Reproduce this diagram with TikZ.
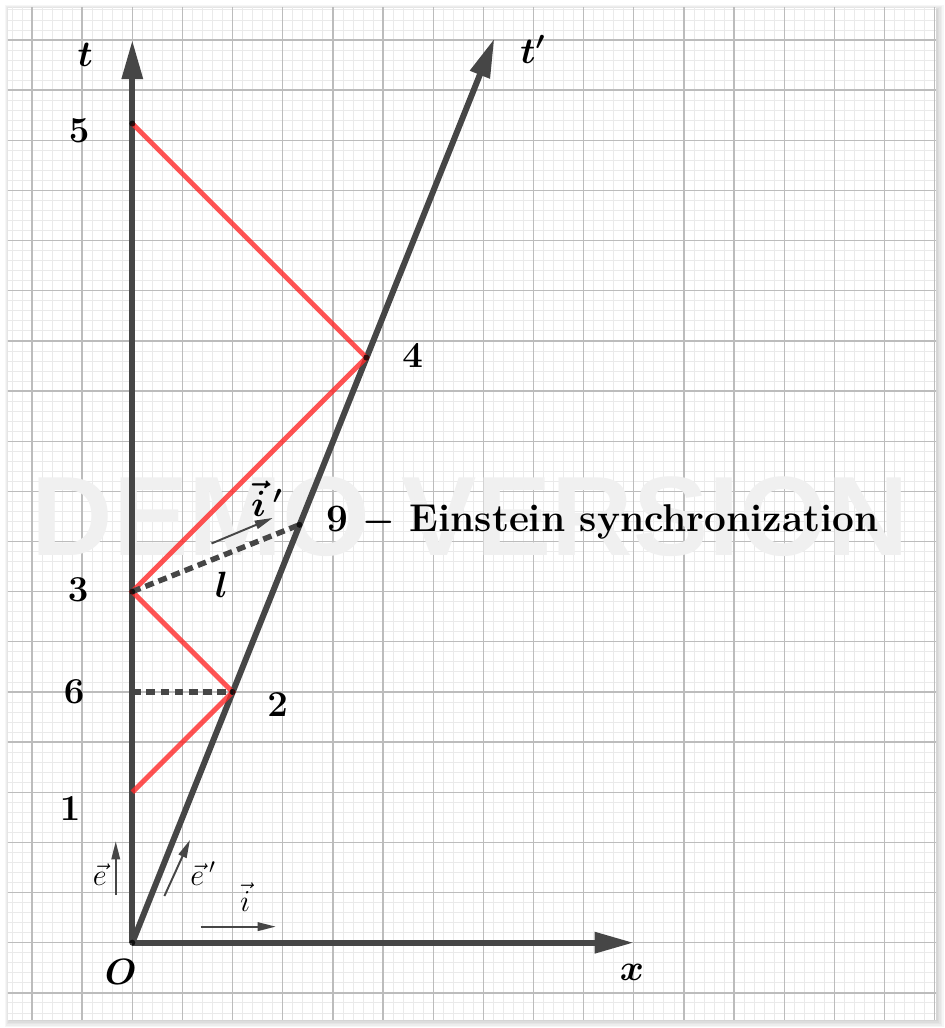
\documentclass[tikz,border=0pt]{standalone}
\usepackage{fontspec}
\usepackage{amsmath}
\usetikzlibrary{arrows.meta}
\newfontfamily\wmfont{Liberation Sans}
\definecolor{axisgray}{RGB}{70,70,70}
\definecolor{lightred}{RGB}{255,40,40}
\definecolor{minorgrid}{RGB}{234,234,234}
\definecolor{majorgrid}{RGB}{188,188,188}
\tikzset{
  axis/.style={draw=axisgray, line width=3.4pt, -{Triangle[length=0.78cm,width=0.4cm]}},
  smallvec/.style={draw=axisgray, line width=1.1pt, -{Triangle[length=0.36cm,width=0.17cm]}},
  ray/.style={draw=lightred, line width=2.8pt, opacity=0.8, line join=miter},
  dashline/.style={draw=axisgray, line width=3.1pt, dash pattern=on 5pt off 3pt},
  lab/.style={font=\fontsize{22}{26}\selectfont\bfseries\boldmath, inner sep=0pt},
  slab/.style={font=\fontsize{17}{20}\selectfont, inner sep=0pt},
  dot/.style={fill=black, opacity=0.75},
}
\begin{document}
\begin{tikzpicture}[x=1cm,y=1cm]
\useasboundingbox (-2.638,-1.701) rectangle (16.186,18.797);
% shadow
\foreach \k in {1,...,5}{
  \fill[black, opacity=0.035] (-2.48-0.02*\k+0.04,-1.54-0.03*\k) rectangle (16.03+0.03*\k,18.64+0.02*\k-0.04);
}
\fill[white] (-2.48,-1.54) rectangle (16.03,18.64);
\begin{scope}
\clip (-2.48,-1.54) rectangle (16.03,18.64);
\draw[minorgrid, line width=0.45pt] (-2.6,-1.6) grid[step=0.2] (16.2,18.8);
\draw[majorgrid, line width=0.75pt] (-3,-2) grid[step=1] (17,19);
\end{scope}
% watermark
\node[font=\wmfont\bfseries\fontsize{64}{64}\selectfont, text=black!6, inner sep=0pt] (wm) at (6.74,8.49) {DEMO VERSION};
% points
\coordinate (O) at (0,0);
\coordinate (P1) at (0,3);
\coordinate (P2) at (2,5);
\coordinate (P6) at (0,5);
\coordinate (P3) at (0,7);
\coordinate (P4) at (4.6667,11.6667);
\coordinate (P5) at (0,16.3333);
\coordinate (P9) at (3.3333,8.3333);
\coordinate (Tend) at (0,18);
\coordinate (Xend) at (10,0);
\coordinate (Tpend) at (7.22,18.03);
% axes
\draw[axis] (O) -- (Tend);
\draw[axis] (O) -- (Xend);
\draw[axis] (O) -- (Tpend);
% light rays
\draw[ray] (P1) -- (P2) -- (P3) -- (P4) -- (P5);
% dashed
\draw[dashline] (P6) -- (P2);
\draw[dashline] (P3) -- (P9);
% dots
\foreach \p in {O,P2,P3,P4,P9,P5}{ \fill[dot] (\p) circle (0.06); }
% small vectors
\coordinate (ea) at (-0.33,0.95); \coordinate (eb) at (-0.33,2.02);
\coordinate (epa) at (0.64,0.93); \coordinate (epb) at (1.15,2.05);
\coordinate (ia) at (1.36,0.32); \coordinate (ib) at (2.86,0.32);
\coordinate (ipa) at (1.58,7.96); \coordinate (ipb) at (2.80,8.47);
\draw[smallvec] (ea) -- (eb);
\draw[smallvec] (epa) -- (epb);
\draw[smallvec] (ia) -- (ib);
\draw[smallvec] (ipa) -- (ipb);
% labels
\node[lab, anchor=base] (lt) at (-0.94,17.48) {$t$};
\node[lab, anchor=base west] (ltp) at (7.73,17.54) {$t'$};
\node[lab, anchor=base] (l5) at (-1.06,15.95) {$5$};
\node[lab, anchor=base] (l4) at (5.59,11.47) {$4$};
\node[lab, anchor=base] (l3) at (-1.08,6.81) {$3$};
\node[lab, anchor=base] (l6) at (-1.16,4.76) {$6$};
\node[lab, anchor=base] (l2) at (2.90,4.52) {$2$};
\node[lab, anchor=base] (l1) at (-1.24,2.43) {$1$};
\node[lab, anchor=base] (lO) at (-0.23,-0.84) {$O$};
\node[lab, anchor=base] (lx) at (9.96,-0.75) {$x$};
\node[lab, anchor=base] (ll) at (1.78,6.89) {$l$};
\node[lab, anchor=base west] (lip) at (2.36,8.49) {$\vec{i}\,'$};
\node[lab, anchor=base west] (l9) at (3.86,8.20) {9 $-$ Einstein synchronization};
\node[slab, anchor=base] (le) at (-0.65,1.15) {$\vec{e}$};
\node[slab, anchor=base west] (lep) at (1.15,1.15) {$\vec{e}\,'$};
\node[slab, anchor=base] (li) at (2.25,0.62) {$\vec{i}$};
\end{tikzpicture}
\end{document}
